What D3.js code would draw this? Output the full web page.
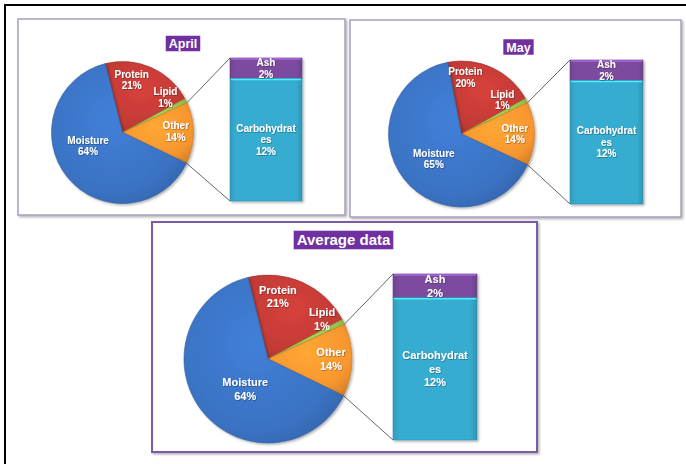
<!DOCTYPE html>
<html>
<head>
<meta charset="utf-8">
<script src="https://cdn.jsdelivr.net/npm/d3@7"></script>
<style>
  body { margin: 0; background: #fff; }
  svg { display: block; font-family: "Liberation Sans", Arial, sans-serif; }
  .lbl { fill: #fff; font-weight: bold; }
</style>
</head>
<body>
<div id="chart"></div>
<script>
// chart values
const panelNames = ["April", "May", "Average data"];
const pieCategories = ["Protein", "Lipid", "Other", "Moisture"];
const aprilPie = [21, 1, 14, 64];
const mayPie = [20, 1, 14, 65];
const averagePie = [21, 1, 14, 64];
const barCategories = ["Ash", "Carbohydrates"];
const barLabelLines = [["Ash"], ["Carbohydrat", "es"]];
const aprilBar = [2, 12];
const mayBar = [2, 12];
const averageBar = [2, 12];

const pieColors = { Protein: "#c23a35", Lipid: "#9bc24a", Other: "#f7962f", Moisture: "#3a72c2" };
const barColors = { Ash: "#7b4c9f", Carbohydrates: "#36acd0" };

// layout of each panel (positions only)
const layout = [
  { frame: [18, 19, 327, 196], stroke: "#a89dc2", sw: 1.5, title: [183, 43.5], tfs: 12.5,
    pie: [122.5, 132.5, 71], start: -14, fs: 10, lh: 11.5,
    lab: [[10, 0.75], [51, 0.78], [89, 0.75], [249, 0.52]],
    bar: [230, 302, 58, 201] },
  { frame: [350, 20, 331, 197], stroke: "#a89dc2", sw: 1.5, title: [518.5, 47], tfs: 12.5,
    pie: [461.5, 134, 73], start: -11, fs: 10, lh: 11.5,
    lab: [[4, 0.78], [50, 0.73], [90, 0.73], [228, 0.51]],
    bar: [570, 643, 60, 204] },
  { frame: [152, 222, 385, 230], stroke: "#7e5aa6", sw: 2, title: [343.5, 240], tfs: 15,
    pie: [268, 359, 84], start: -13.7, fs: 11, lh: 13.5,
    lab: [[9, 0.75], [53.5, 0.8], [90, 0.75], [217, 0.45]],
    bar: [393, 477, 274, 440] }
];
const pieData = [aprilPie, mayPie, averagePie];
const barData = [aprilBar, mayBar, averageBar];

const W = 686, H = 464;
const svg = d3.select("#chart").append("svg").attr("width", W).attr("height", H);
const defs = svg.append("defs");

// gradients giving the office bevel look
Object.entries(pieColors).forEach(([k, c]) => {
  const g = defs.append("radialGradient").attr("id", "pg_" + k)
    .attr("gradientUnits", "objectBoundingBox").attr("cx", "45%").attr("cy", "40%").attr("r", "75%");
  g.append("stop").attr("offset", "0%").attr("stop-color", d3.color(c).brighter(0.3));
  g.append("stop").attr("offset", "70%").attr("stop-color", c);
  g.append("stop").attr("offset", "100%").attr("stop-color", d3.color(c).darker(0.5));
});
Object.entries(barColors).forEach(([k, c]) => {
  const g = defs.append("linearGradient").attr("id", "bg_" + k).attr("x1", 0).attr("x2", 1).attr("y1", 0).attr("y2", 0);
  g.append("stop").attr("offset", "0%").attr("stop-color", d3.color(c).darker(0.3));
  g.append("stop").attr("offset", "8%").attr("stop-color", c);
  g.append("stop").attr("offset", "92%").attr("stop-color", c);
  g.append("stop").attr("offset", "100%").attr("stop-color", d3.color(c).darker(0.4));
});
const sh = defs.append("filter").attr("id", "shadow").attr("x", "-10%").attr("y", "-10%").attr("width", "130%").attr("height", "130%");
sh.append("feDropShadow").attr("dx", 1.5).attr("dy", 1.5).attr("stdDeviation", 1.2).attr("flood-color", "#000").attr("flood-opacity", 0.3);
const tsh = defs.append("filter").attr("id", "tshadow");
tsh.append("feDropShadow").attr("dx", 0.6).attr("dy", 0.6).attr("stdDeviation", 0.5).attr("flood-color", "#000").attr("flood-opacity", 0.45);

// outer black frame
svg.append("rect").attr("x", 5).attr("y", 5).attr("width", W + 20).attr("height", H + 20)
  .attr("fill", "none").attr("stroke", "#000").attr("stroke-width", 2);

const toRad = d => d * Math.PI / 180;

panelNames.forEach((name, i) => {
  const L = layout[i];
  const g = svg.append("g");
  const [fx, fy, fw, fh] = L.frame;
  g.append("rect").attr("x", fx).attr("y", fy).attr("width", fw).attr("height", fh)
    .attr("fill", "#fff").attr("stroke", L.stroke).attr("stroke-width", L.sw)
    .attr("filter", "url(#shadow)");

  // title
  const tg = g.append("g");
  const tt = tg.append("text").attr("x", L.title[0]).attr("y", L.title[1])
    .attr("text-anchor", "middle").attr("dy", "0.36em")
    .attr("font-size", L.tfs).attr("font-weight", "bold").attr("fill", "#fff").text(name);
  const tw = tt.node().getComputedTextLength();
  tg.insert("rect", "text").attr("x", L.title[0] - tw / 2 - 3).attr("y", L.title[1] - L.tfs * 0.62)
    .attr("width", tw + 6).attr("height", L.tfs * 1.24).attr("fill", "#7030a0");

  // pie
  const [cx, cy, r] = L.pie;
  const vals = pieData[i];
  const a0 = toRad(L.start);
  const arcs = d3.pie().sort(null).value(d => d.v).startAngle(a0).endAngle(a0 + 2 * Math.PI)(vals.map((v, j) => ({ cat: pieCategories[j], v })));
  const arc = d3.arc().innerRadius(0).outerRadius(r);
  const pg = g.append("g").attr("transform", `translate(${cx},${cy})`);
  pg.selectAll("path").data(arcs).join("path")
    .attr("d", arc)
    .attr("fill", d => `url(#pg_${d.data.cat})`)
    .attr("stroke", d => d3.color(pieColors[d.data.cat]).darker(0.6))
    .attr("stroke-width", 0.6)
    .attr("filter", "url(#shadow)");

  // pie labels
  arcs.forEach((d, j) => {
    const [ang, fr] = L.lab[j];
    const lx = cx + fr * r * Math.sin(toRad(ang));
    const ly = cy - fr * r * Math.cos(toRad(ang));
    const t = g.append("text").attr("class", "lbl").attr("font-size", L.fs)
      .attr("text-anchor", "middle").attr("filter", "url(#tshadow)");
    const lines = [d.data.cat, d.data.v + "%"];
    lines.forEach((s, k) => {
      t.append("tspan").attr("x", lx)
        .attr("y", ly + (k - (lines.length - 1) / 2) * L.lh)
        .attr("dy", "0.36em").text(s);
    });
  });

  // bar of pie
  const [bx0, bx1, by0, by1] = L.bar;
  const bv = barData[i];
  const y = d3.scaleLinear().domain([0, d3.sum(bv)]).range([by0, by1]);
  let acc = 0;
  const segs = bv.map((v, j) => { const s = { cat: barCategories[j], v, lines: barLabelLines[j], y0: acc, y1: acc + v }; acc += v; return s; });

  // connector lines from the "Other" slice
  const other = arcs.find(d => d.data.cat === "Other");
  const pt = a => [cx + r * Math.sin(a), cy - r * Math.cos(a)];
  const p1 = pt(other.startAngle), p2 = pt(other.endAngle);
  g.append("line").attr("x1", p1[0]).attr("y1", p1[1]).attr("x2", bx0).attr("y2", y(0))
    .attr("stroke", "#555").attr("stroke-width", 0.9);
  g.append("line").attr("x1", p2[0]).attr("y1", p2[1]).attr("x2", bx0).attr("y2", y(d3.sum(bv)))
    .attr("stroke", "#555").attr("stroke-width", 0.9);

  const bg = g.append("g").attr("filter", "url(#shadow)");
  bg.selectAll("rect").data(segs).join("rect")
    .attr("x", bx0).attr("width", bx1 - bx0)
    .attr("y", d => y(d.y0)).attr("height", d => y(d.y1) - y(d.y0))
    .attr("fill", d => `url(#bg_${d.cat})`)
    .attr("stroke", d => d3.color(barColors[d.cat]).darker(0.5)).attr("stroke-width", 0.6);
  // light bevel highlight at the top of each segment
  bg.selectAll("line").data(segs).join("line")
    .attr("x1", bx0 + 1).attr("x2", bx1 - 1)
    .attr("y1", d => y(d.y0) + 1).attr("y2", d => y(d.y0) + 1)
    .attr("stroke", d => d3.color(barColors[d.cat]).brighter(0.9)).attr("stroke-width", 1.5);

  segs.forEach(s => {
    const lines = s.lines.concat([s.v + "%"]);
    const my = (y(s.y0) + y(s.y1)) / 2;
    const t = g.append("text").attr("class", "lbl").attr("font-size", L.fs)
      .attr("text-anchor", "middle").attr("filter", "url(#tshadow)");
    lines.forEach((str, k) => {
      t.append("tspan").attr("x", (bx0 + bx1) / 2)
        .attr("y", my + (k - (lines.length - 1) / 2) * L.lh)
        .attr("dy", "0.36em").text(str);
    });
  });
});
</script>
</body>
</html>
